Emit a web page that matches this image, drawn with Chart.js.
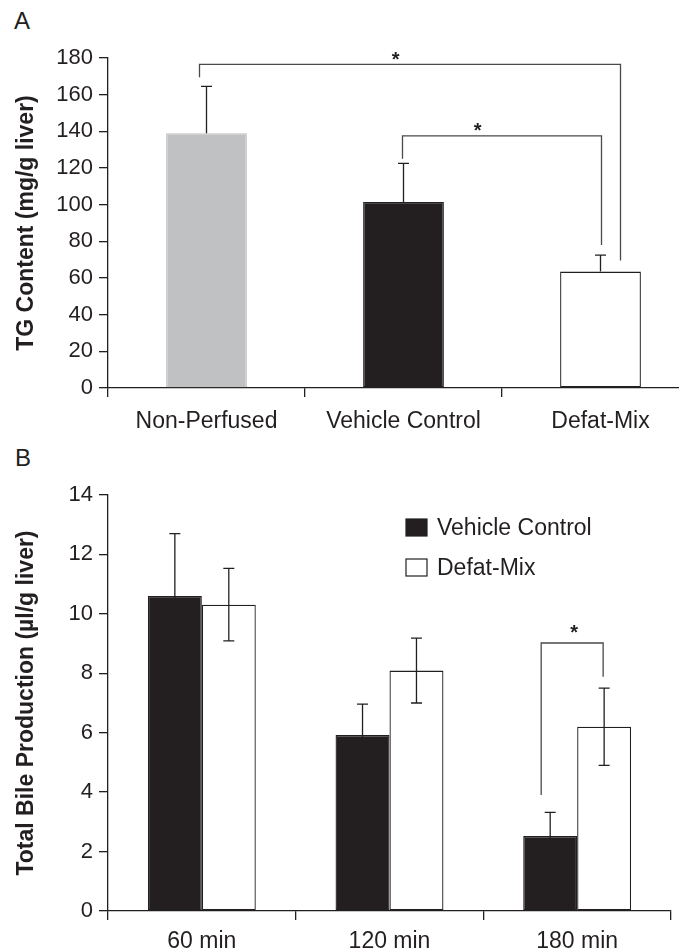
<!DOCTYPE html>
<html lang="en">
  <head>
    <meta charset="UTF-8" />
    <title>TG Content and Total Bile Production</title>
    <script src="https://cdn.jsdelivr.net/npm/chart.js@4.4.0/dist/chart.umd.min.js"></script>
    <style>
      html,
      body {
        margin: 0;
        padding: 0;
        background: #fff;
        overflow: hidden;
      }
      #page {
        position: relative;
        width: 679px;
        height: 952px;
        overflow: hidden;
        font-family: "Liberation Sans", Arial, sans-serif;
        color: #231f20;
      }
      .panel-label {
        position: absolute;
        font-size: 24px;
        line-height: 24px;
      }
      #wrap-a {
        position: absolute;
        left: 0;
        top: 0;
      }
      #wrap-b {
        position: absolute;
        left: 0;
        top: 440px;
      }
    </style>
  </head>
  <body>
    <div id="page">
      <div class="panel-label" style="left: 14px; top: 9px">A</div>
      <div class="panel-label" style="left: 15px; top: 446px">B</div>
      <div id="wrap-a"><canvas id="chart-a" width="700" height="440"></canvas></div>
      <div id="wrap-b"><canvas id="chart-b" width="679" height="512"></canvas></div>
    </div>

    <script>
      // Panel A data
      const tgCategories = ["Non-Perfused", "Vehicle Control", "Defat-Mix"];
      const tgValues = [139, 101.5, 63.5];
      const tgErrors = [25.5, 21, 9];
      const tgColors = ["#c0c1c3", "#231f20", "#ffffff"];

      // Panel A significance brackets (bar indices and values)
      const tgBracketFrom = [0, 1];
      const tgBracketTo = [2, 2];
      const tgBracketTop = [176.5, 137.5];
      const tgBracketLeftEnd = [169.5, 125];
      const tgBracketRightEnd = [69.5, 78];

      // Panel B data
      const bileCategories = ["60 min", "120 min", "180 min"];
      const seriesNames = ["Vehicle Control", "Defat-Mix"];
      const vehicleValues = [10.6, 5.92, 2.52];
      const vehicleErrors = [2.1, 1.04, 0.8];
      const defatValues = [10.31, 8.09, 6.2];
      const defatErrors = [1.22, 1.09, 1.3];

      // Panel B significance bracket (180 min)
      const bileBracketIndex = 2;
      const bileBracketTop = 9.02;
      const bileBracketLeftEnd = 3.9;
      const bileBracketRightEnd = 7.88;

      const INK = "#231f20";
      const LINE = "#4a4a4a";
      const FAMILY = '"Liberation Sans", Arial, sans-serif';

      function errorBars(errorSets, twoSided) {
        return {
          id: "errorBars",
          afterDatasetsDraw(chart) {
            const ctx = chart.ctx;
            const y = chart.scales.y;
            ctx.save();
            ctx.strokeStyle = INK;
            ctx.lineWidth = 1.3;
            errorSets.forEach((errs, di) => {
              const vals = chart.data.datasets[di].data;
              chart.getDatasetMeta(di).data.forEach((bar, i) => {
                const top = y.getPixelForValue(vals[i] + errs[i]);
                const bot = twoSided ? y.getPixelForValue(vals[i] - errs[i]) : bar.y;
                ctx.beginPath();
                ctx.moveTo(bar.x, bot);
                ctx.lineTo(bar.x, top);
                ctx.moveTo(bar.x - 5.5, top);
                ctx.lineTo(bar.x + 5.5, top);
                if (twoSided) {
                  ctx.moveTo(bar.x - 5.5, bot);
                  ctx.lineTo(bar.x + 5.5, bot);
                }
                ctx.stroke();
              });
            });
            ctx.restore();
          },
        };
      }

      function drawBracket(chart, x1, x2, top, leftEnd, rightEnd, starFrac, gap) {
        const ctx = chart.ctx;
        const y = chart.scales.y;
        const yt = y.getPixelForValue(top);
        ctx.save();
        ctx.strokeStyle = LINE;
        ctx.lineWidth = 1.3;
        ctx.beginPath();
        ctx.moveTo(x1, y.getPixelForValue(leftEnd));
        ctx.lineTo(x1, yt);
        ctx.lineTo(x2, yt);
        ctx.lineTo(x2, y.getPixelForValue(rightEnd));
        ctx.stroke();
        ctx.fillStyle = INK;
        ctx.font = "bold 20px " + FAMILY;
        ctx.textAlign = "center";
        ctx.textBaseline = "alphabetic";
        ctx.fillText("*", x1 + (x2 - x1) * starFrac, yt - gap + 7);
        ctx.restore();
      }

      const axisGrid = {
        drawOnChartArea: false,
        drawTicks: true,
        tickLength: 9,
        color: INK,
        lineWidth: 1.3,
      };
      const tickFont = { family: FAMILY, size: 22 };
      const labelFont = { family: FAMILY, size: 23 };
      const titleFont = { family: FAMILY, size: 23, weight: "bold" };

      // Panel A
      new Chart(document.getElementById("chart-a"), {
        type: "bar",
        data: {
          labels: tgCategories,
          datasets: [
            {
              data: tgValues,
              backgroundColor: tgColors,
              borderColor: ["#c0c1c3", INK, INK],
              borderWidth: 1.3,
              borderSkipped: false,
              barPercentage: 0.41,
              categoryPercentage: 1,
            },
          ],
        },
        options: {
          responsive: false,
          animation: false,
          layout: { padding: { top: 58, right: 1, left: 0, bottom: 0 } },
          plugins: { legend: { display: false }, tooltip: { enabled: false } },
          scales: {
            x: {
              grid: { ...axisGrid, offset: true },
              border: { color: INK, width: 1.3 },
              ticks: { color: INK, font: labelFont, padding: 11 },
              afterFit: (s) => (s.height = 52),
            },
            y: {
              min: 0,
              max: 180,
              grid: axisGrid,
              border: { color: INK, width: 1.3 },
              ticks: { stepSize: 20, color: INK, font: tickFont, padding: 6 },
              title: {
                display: true,
                text: "TG Content (mg/g liver)",
                color: INK,
                font: titleFont,
                padding: { top: 13, bottom: 0 },
              },
              afterFit: (s) => (s.width = 108),
            },
          },
        },
        plugins: [
          errorBars([tgErrors], false),
          {
            id: "tgBrackets",
            afterDatasetsDraw(chart) {
              const bars = chart.getDatasetMeta(0).data;
              const nudges = [[-7, 20], [-1, 1]];
              const stars = [0.466, 0.377];
              const gaps = [5, 6];
              tgBracketFrom.forEach((from, k) => {
                drawBracket(
                  chart,
                  bars[from].x + nudges[k][0],
                  bars[tgBracketTo[k]].x + nudges[k][1],
                  tgBracketTop[k],
                  tgBracketLeftEnd[k],
                  tgBracketRightEnd[k],
                  stars[k],
                  gaps[k]
                );
              });
            },
          },
        ],
      });

      // Panel B
      new Chart(document.getElementById("chart-b"), {
        type: "bar",
        data: {
          labels: bileCategories,
          datasets: [
            {
              label: seriesNames[0],
              data: vehicleValues,
              backgroundColor: INK,
              borderColor: INK,
              borderWidth: 1.3,
              borderSkipped: false,
            },
            {
              label: seriesNames[1],
              data: defatValues,
              backgroundColor: "#ffffff",
              borderColor: INK,
              borderWidth: 1.3,
              borderSkipped: false,
            },
          ],
        },
        options: {
          responsive: false,
          animation: false,
          datasets: { bar: { barPercentage: 1, categoryPercentage: 0.575 } },
          layout: { padding: { top: 55, right: 8, left: 0, bottom: 0 } },
          plugins: { legend: { display: false }, tooltip: { enabled: false } },
          scales: {
            x: {
              grid: { ...axisGrid, offset: true },
              border: { color: INK, width: 1.3 },
              ticks: { color: INK, font: labelFont, padding: 8 },
              afterFit: (s) => (s.height = 41),
            },
            y: {
              min: 0,
              max: 14,
              grid: axisGrid,
              border: { color: INK, width: 1.3 },
              ticks: { stepSize: 2, color: INK, font: tickFont, padding: 6 },
              title: {
                display: true,
                text: "Total Bile Production (µl/g liver)",
                color: INK,
                font: titleFont,
                padding: { top: 13, bottom: 0 },
              },
              afterFit: (s) => (s.width = 108),
            },
          },
        },
        plugins: [
          errorBars([vehicleErrors, defatErrors], true),
          {
            id: "bileExtras",
            afterDatasetsDraw(chart) {
              const black = chart.getDatasetMeta(0).data[bileBracketIndex];
              const white = chart.getDatasetMeta(1).data[bileBracketIndex];
              drawBracket(
                chart,
                black.x - 9,
                white.x - 1,
                bileBracketTop,
                bileBracketLeftEnd,
                bileBracketRightEnd,
                0.53,
                11
              );

              // legend
              const ctx = chart.ctx;
              const area = chart.chartArea;
              const lx = area.left + 298;
              const ly = area.top + 24;
              ctx.save();
              ctx.font = "23px " + FAMILY;
              ctx.textBaseline = "middle";
              chart.data.datasets.forEach((ds, i) => {
                const top = ly + i * 40;
                ctx.fillStyle = ds.backgroundColor;
                ctx.fillRect(lx, top, 21, 17);
                ctx.strokeStyle = INK;
                ctx.lineWidth = 1.2;
                ctx.strokeRect(lx, top, 21, 17);
                ctx.fillStyle = INK;
                ctx.fillText(ds.label, lx + 31, top + 9.5);
              });
              ctx.restore();
            },
          },
        ],
      });
    </script>
  </body>
</html>
